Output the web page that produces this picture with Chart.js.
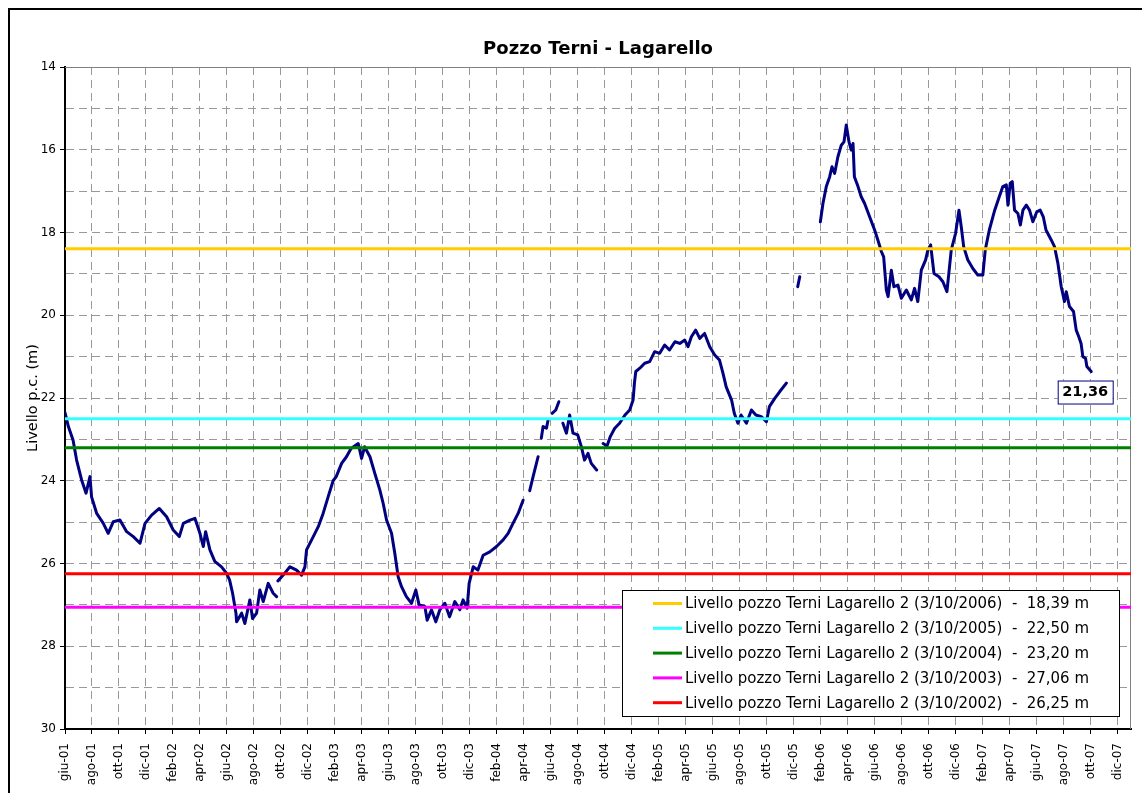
<!DOCTYPE html>
<html lang="it">
  <head>
    <meta charset="UTF-8" />
    <title>Pozzo Terni - Lagarello</title>
    <style>
      body {
        margin: 0;
        background: #fff;
        overflow: hidden;
      }
      canvas {
        display: block;
      }
    </style>
    <script src="https://cdn.jsdelivr.net/npm/chart.js"></script>
  </head>
  <body>
    <canvas id="chart" width="1142" height="793"></canvas>
    <script>
      // x = months since 1 June 2001, null level = gap in the record
      const tMonths = [
        0.0, 0.25, 0.6, 0.86, 1.23, 1.56, 1.85, 1.97, 2.35, 2.84, 3.2, 3.58, 4.07, 4.57, 5.06, 5.56,
        5.93, 6.42, 6.99, 7.53, 8.02, 8.47, 8.77, 9.26, 9.63, 10.0, 10.25, 10.42, 10.74, 11.1, 11.6,
        11.98, 12.2, 12.42, 12.67, 12.72, 13.09, 13.33, 13.7, 13.9, 14.2, 14.44, 14.69, 15.06, 15.43,
        15.68, 15.72, 15.78, 16.17, 16.67, 17.16, 17.53, 17.78, 17.9, 18.4, 18.77, 19.13, 19.5, 19.87,
        20.1, 20.5, 20.86, 21.2, 21.73, 21.98, 22.2, 22.6, 22.96, 23.33, 23.58, 23.83, 24.2, 24.44,
        24.69, 24.94, 25.3, 25.68, 26.0, 26.24, 26.67, 26.84, 27.16, 27.48, 27.78, 28.15, 28.5, 28.89,
        29.26, 29.5, 29.8, 29.95, 30.25, 30.6, 30.99, 31.48, 31.98, 32.47, 32.84, 33.2, 33.58, 33.95,
        34.2, 34.44, 34.69, 35.06, 35.2, 35.3, 35.43, 35.68, 35.8, 35.95, 36.1, 36.37, 36.6, 36.75,
        36.9, 37.16, 37.4, 37.65, 38.0, 38.27, 38.5, 38.76, 39.0, 39.4, 39.65, 39.88, 40.17, 40.4,
        40.74, 41.1, 41.5, 41.85, 42.1, 42.2, 42.3, 42.6, 42.96, 43.33, 43.7, 44.07, 44.44, 44.8,
        45.2, 45.56, 45.93, 46.17, 46.42, 46.74, 47.04, 47.4, 47.78, 48.15, 48.5, 48.76, 49.0, 49.4,
        49.6, 49.87, 50.1, 50.5, 50.87, 51.2, 51.6, 51.98, 52.2, 52.6, 52.96, 53.46, 53.9, 54.3,
        54.45, 55.2, 55.98, 56.17, 56.42, 56.67, 56.84, 57.04, 57.28, 57.53, 57.73, 57.9, 58.1,
        58.27, 58.4, 58.5, 58.77, 59.0, 59.26, 59.63, 60.0, 60.24, 60.5, 60.67, 60.87, 61.0, 61.24,
        61.43, 61.73, 61.98, 62.35, 62.72, 62.96, 63.2, 63.46, 63.78, 63.95, 64.15, 64.4, 64.77,
        65.06, 65.36, 65.68, 66.0, 66.25, 66.42, 66.6, 66.9, 67.28, 67.65, 68.02, 68.2, 68.5, 68.9,
        69.2, 69.5, 69.76, 69.88, 70.05, 70.2, 70.37, 70.62, 70.8, 70.99, 71.24, 71.48, 71.73,
        72.02, 72.27, 72.5, 72.7, 73.09, 73.33, 73.58, 73.83, 74.07, 74.2, 74.44, 74.74, 74.94,
        75.13, 75.3, 75.43, 75.63, 75.73, 76.05,
      ];
      const level = [
        22.35, 22.69, 23.02, 23.5, 23.98, 24.3, 23.9, 24.39, 24.79, 25.03, 25.27, 24.99, 24.95, 25.23, 25.35, 25.51,
        25.03, 24.83, 24.67, 24.87, 25.19, 25.35, 25.03, 24.95, 24.91, 25.27, 25.59, 25.23, 25.67, 25.95, 26.08,
        26.24, 26.4, 26.72, 27.2, 27.41, 27.2, 27.45, 26.88, 27.33, 27.2, 26.64, 26.92, 26.48, 26.72,
        26.8, null, 26.42, 26.28, 26.08, 26.16, 26.28, 26.08, 25.67, 25.35, 25.11, 24.79, 24.39, 24.0,
        23.9, 23.58, 23.42, 23.22, 23.1, 23.46, 23.18, 23.42, 23.82, 24.22, 24.55, 24.95, 25.27, 25.75,
        26.32, 26.56, 26.8, 26.96, 26.64, 27.0, 27.04, 27.37, 27.12, 27.41, 27.12, 26.96, 27.29, 26.92,
        27.12, 26.88, 27.08, 26.48, 26.08, 26.16, 25.8, 25.72, 25.59, 25.43, 25.27, 25.03, 24.79, 24.47,
        null, 24.24, 23.9, 23.42, null, 22.97, 22.69, 22.73, 22.53, null, 22.37, 22.29, 22.09, null,
        22.61, 22.85, 22.41, 22.85, 22.89, 23.18, 23.5, 23.34, 23.58, 23.74, null, 23.1, 23.16, 22.94,
        22.73, 22.61, 22.41, 22.29, 22.05, 21.64, 21.36, 21.28, 21.16, 21.12, 20.88, 20.92, 20.72, 20.84,
        20.64, 20.68, 20.6, 20.76, 20.52, 20.36, 20.56, 20.44, 20.76, 20.96, 21.08, 21.4, 21.73, 22.05,
        22.37, 22.61, 22.41, 22.61, 22.29, 22.41, 22.45, 22.57, 22.21, 22.01, 21.85, 21.64, null, 19.31,
        19.07, null, 17.74, 17.3, 16.89, 16.65, 16.41, 16.57, 16.17, 15.89, 15.81, 15.4, 15.81,
        16.01, 15.85, 16.65, 16.89, 17.13, 17.3, 17.62, 17.94, 18.18, 18.46, 18.59, 19.39, 19.55, 18.91,
        19.31, 19.27, 19.59, 19.39, 19.63, 19.35, 19.67, 18.91, 18.66, 18.42, 18.3, 18.99, 19.07,
        19.19, 19.43, 18.42, 18.02, 17.46, 17.86, 18.34, 18.66, 18.87, 19.03, 19.03, 18.42, 17.94, 17.46,
        17.17, 16.89, 16.85, 17.34, 16.81, 16.77, 17.46, 17.54, 17.82, 17.46, 17.34, 17.46, 17.74,
        17.5, 17.46, 17.62, 17.94, 18.18, 18.34, 18.74, 19.31, 19.67, 19.43, 19.79, 19.91, 20.36,
        20.52, 20.68, 21.0, 21.04, 21.24, 21.36,
      ];

      const refYears = ["2006", "2005", "2004", "2003", "2002"];
      const refLevels = [18.39, 22.5, 23.2, 27.06, 26.25];
      const refColors = ["#ffcc00", "#33ffff", "#008000", "#ff00ff", "#ff0000"];

      const monthLabels = [
        "giu-01", "ago-01", "ott-01", "dic-01",
        "feb-02", "apr-02", "giu-02", "ago-02", "ott-02", "dic-02",
        "feb-03", "apr-03", "giu-03", "ago-03", "ott-03", "dic-03",
        "feb-04", "apr-04", "giu-04", "ago-04", "ott-04", "dic-04",
        "feb-05", "apr-05", "giu-05", "ago-05", "ott-05", "dic-05",
        "feb-06", "apr-06", "giu-06", "ago-06", "ott-06", "dic-06",
        "feb-07", "apr-07", "giu-07", "ago-07", "ott-07", "dic-07",
      ];
      const xMax = 79;

      const FONT = "'DejaVu Sans', Verdana, sans-serif";
      Chart.defaults.font.family = FONT;
      Chart.defaults.font.size = 12;
      Chart.defaults.color = "#000";

      const fmt = (v) => v.toFixed(2).replace(".", ",");

      // pick a font size so the text spans the width seen in the original
      function fitFont(ctx, text, weight, width) {
        ctx.font = `${weight} 20px ${FONT}`;
        const size = (20 * width) / ctx.measureText(text).width;
        ctx.font = `${weight} ${size.toFixed(2)}px ${FONT}`;
      }

      const refDatasets = refLevels.map((v, i) => ({
        label: `Livello pozzo Terni Lagarello 2 (3/10/${refYears[i]})  -  ${fmt(v)} m`,
        data: [
          { x: 0, y: v },
          { x: xMax, y: v },
        ],
        borderColor: refColors[i],
        borderWidth: 3,
        pointRadius: 0,
        order: 0,
      }));

      const seriesData = tMonths.map((t, i) => ({ x: t, y: level[i] }));

      // title, axis title, outer frame, legend box and last-value label
      const decorations = {
        id: "decorations",
        beforeDraw(chart) {
          const ctx = chart.ctx;
          ctx.save();
          ctx.fillStyle = "#fff";
          ctx.fillRect(0, 0, chart.width, chart.height);
          ctx.fillStyle = "#000";
          ctx.fillRect(8, 8, 2, chart.height);
          ctx.fillRect(8, 8, chart.width, 2);
          ctx.restore();
        },
        beforeDatasetsDraw(chart) {
          const { ctx, chartArea: a } = chart;
          ctx.save();
          ctx.strokeStyle = "#808080";
          ctx.lineWidth = 1;
          ctx.beginPath();
          ctx.moveTo(a.left, a.top + 0.5);
          ctx.lineTo(a.right - 0.5, a.top + 0.5);
          ctx.lineTo(a.right - 0.5, a.bottom);
          ctx.stroke();
          ctx.restore();
        },
        afterDatasetsDraw(chart) {
          const { ctx, chartArea: a } = chart;
          const xs = chart.scales.x;
          const ys = chart.scales.y;
          ctx.save();

          // title
          ctx.fillStyle = "#000";
          ctx.textAlign = "center";
          ctx.textBaseline = "middle";
          const title = "Pozzo Terni - Lagarello";
          fitFont(ctx, title, "bold", 230);
          ctx.fillText(title, (a.left + a.right) / 2, 49);

          // y axis title
          ctx.save();
          ctx.translate(33, (a.top + a.bottom) / 2);
          ctx.rotate(-Math.PI / 2);
          const yTitle = "Livello p.c. (m)";
          fitFont(ctx, yTitle, "normal", 108);
          ctx.fillText(yTitle, 0, 0);
          ctx.restore();

          // legend
          const lx = 622, ly = 590, lw = 497, lh = 126;
          ctx.fillStyle = "#fff";
          ctx.fillRect(lx, ly, lw, lh);
          ctx.strokeStyle = "#000";
          ctx.lineWidth = 1;
          ctx.strokeRect(lx + 0.5, ly + 0.5, lw, lh);
          fitFont(ctx, refDatasets[0].label, "normal", 404);
          ctx.textAlign = "left";
          refDatasets.forEach((ds, i) => {
            const ry = ly + 13.5 + i * 24.8;
            ctx.strokeStyle = ds.borderColor;
            ctx.lineWidth = 3;
            ctx.beginPath();
            ctx.moveTo(653, ry);
            ctx.lineTo(682, ry);
            ctx.stroke();
            ctx.fillStyle = "#000";
            ctx.fillText(ds.label, 685, ry + 1);
          });

          // last value label
          let li = level.length - 1;
          while (level[li] == null) li--;
          const px = xs.getPixelForValue(tMonths[li]) - 6;
          const py = ys.getPixelForValue(level[li]) + 20;
          const txt = fmt(level[li]);
          fitFont(ctx, txt, "bold", 46);
          const w = 55;
          ctx.fillStyle = "#fff";
          ctx.fillRect(px - w / 2, py - 11, w, 23);
          ctx.strokeStyle = "#000080";
          ctx.lineWidth = 1;
          ctx.strokeRect(px - w / 2 + 0.5, py - 11 + 0.5, w, 23);
          ctx.fillStyle = "#000";
          ctx.textAlign = "center";
          ctx.fillText(txt, px, py + 1);

          ctx.restore();
        },
      };

      new Chart(document.getElementById("chart").getContext("2d"), {
        type: "line",
        data: {
          datasets: [
            ...refDatasets,
            {
              label: "Livello",
              data: seriesData,
              borderColor: "#000080",
              borderWidth: 3,
              pointRadius: 0,
              spanGaps: false,
              borderJoinStyle: "round",
              borderCapStyle: "round",
              order: 1,
            },
          ],
        },
        options: {
          responsive: false,
          animation: false,
          layout: { padding: { top: 67, left: 0, right: 11, bottom: 0 } },
          plugins: {
            legend: { display: false },
            title: { display: false },
            tooltip: { enabled: false },
          },
          scales: {
            x: {
              type: "linear",
              min: 0,
              max: xMax,
              afterFit: (scale) => {
                scale.height = 64;
              },
              afterBuildTicks: (scale) => {
                scale.ticks = monthLabels.map((_, i) => ({ value: i * 2 }));
              },
              ticks: {
                autoSkip: false,
                minRotation: 90,
                maxRotation: 90,
                padding: 9,
                font: { size: 12 },
                callback: (v) => monthLabels[Math.round(v / 2)],
              },
              grid: {
                color: "#999",
                lineWidth: 1,
                tickLength: 5,
                tickColor: "#000",
              },
              border: { color: "#000", width: 2, dash: [8, 5] },
            },
            y: {
              reverse: true,
              min: 14,
              max: 30,
              afterFit: (scale) => {
                scale.width = 65;
              },
              ticks: {
                stepSize: 1,
                padding: 4,
                font: { size: 12 },
                callback: (v) => (v % 2 === 0 ? v : ""),
              },
              grid: {
                color: "#999",
                lineWidth: 1,
                tickLength: 5,
                tickColor: (c) => (c.tick && c.tick.value % 2 === 0 ? "#000" : "rgba(0,0,0,0)"),
              },
              border: { color: "#000", width: 2, dash: [8, 5] },
            },
          },
        },
        plugins: [decorations],
      });
    </script>
  </body>
</html>
